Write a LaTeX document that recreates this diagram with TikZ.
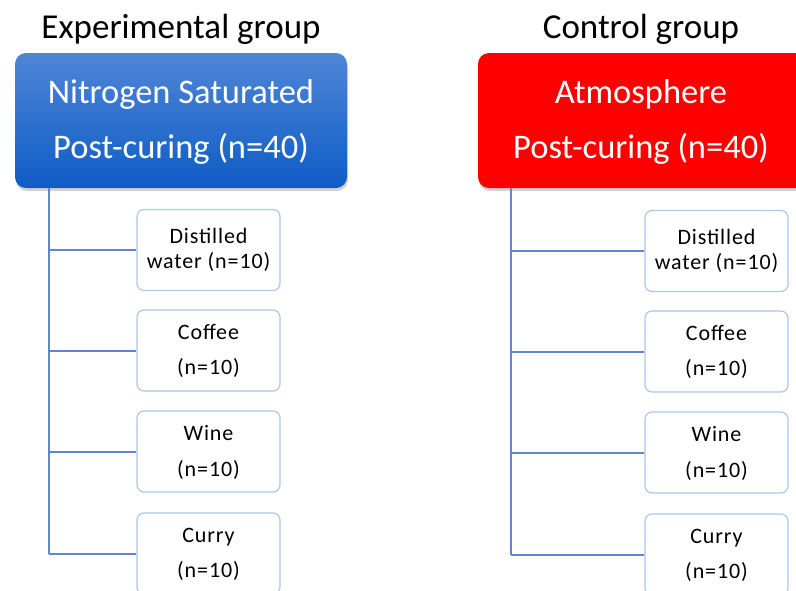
\documentclass[tikz,border=0pt]{standalone}
\usepackage{fontspec}
\setmainfont{Carlito}
\newfontfamily\leaffont[LetterSpace=4]{Carlito}
\usetikzlibrary{shadows}
\definecolor{hdrblueT}{HTML}{4F86D6}
\definecolor{hdrblueB}{HTML}{0E5CC6}
\definecolor{hdrred}{HTML}{FF0000}
\definecolor{boxedge}{HTML}{AFC6EA}
\definecolor{linkcol}{HTML}{5F88CC}
\begin{document}
\begin{tikzpicture}[x=1pt,y=-1pt,
  title/.style={font=\fontsize{35}{38}\selectfont, text=black, anchor=base, inner sep=0pt},
  hdr/.style={rounded corners=11pt, minimum width=332pt, minimum height=135pt, inner sep=0pt,
    drop shadow={shadow xshift=1pt, shadow yshift=-3pt, opacity=0.35}},
  hdrtext/.style={font=\fontsize{34.5}{36}\selectfont, text=white, anchor=base, inner sep=0pt},
  leaf/.style={draw=boxedge, line width=1.2pt, fill=white, rounded corners=7pt,
    minimum width=143pt, minimum height=81pt, inner sep=0pt},
  leaftext/.style={font=\leaffont\fontsize{22}{24}\selectfont, text=black, anchor=base, inner sep=0pt},
  link/.style={draw=linkcol, line width=2pt}]
\useasboundingbox (0,0) rectangle (796,590);
\fill[white] (0,0) rectangle (796,590);

% titles
\node[title] (t1) at (181,38) {Experimental group};
\node[title] (t2) at (641,38) {Control group};

% headers
\node[hdr, top color=hdrblueT, bottom color=hdrblueB] (h1) at (181,120.5) {};
\node[hdr, fill=hdrred, minimum width=330pt] (h2) at (643,120.5) {};
\node[hdrtext] (h1a) at (181,103) {Nitrogen Saturated};
\node[hdrtext] (h1b) at (181,158) {Post-curing (n=40)};
\node[hdrtext] (h2a) at (641,103) {Atmosphere};
\node[hdrtext] (h2b) at (641,158) {Post-curing (n=40)};

% left leaves
\node[leaf] (l1) at (208.5,250) {};
\node[leaf] (l2) at (208.5,350.5) {};
\node[leaf] (l3) at (208.5,451.5) {};
\node[leaf] (l4) at (208.5,553.5) {};
\node[leaftext] (l1a) at (208.5,243) {Distilled};
\node[leaftext] (l1b) at (208.5,268) {water (n=10)};
\node[leaftext] (l2a) at (208.5,339) {Coffee};
\node[leaftext] (l2b) at (208.5,374) {(n=10)};
\node[leaftext] (l3a) at (208.5,440) {Wine};
\node[leaftext] (l3b) at (208.5,476) {(n=10)};
\node[leaftext] (l4a) at (208.5,542) {Curry};
\node[leaftext] (l4b) at (208.5,577) {(n=10)};

% right leaves
\node[leaf] (r1) at (716.5,251) {};
\node[leaf] (r2) at (716.5,351.5) {};
\node[leaf] (r3) at (716.5,452.5) {};
\node[leaf] (r4) at (716.5,554.5) {};
\node[leaftext] (r1a) at (716.5,244) {Distilled};
\node[leaftext] (r1b) at (716.5,269) {water (n=10)};
\node[leaftext] (r2a) at (716.5,340) {Coffee};
\node[leaftext] (r2b) at (716.5,375) {(n=10)};
\node[leaftext] (r3a) at (716.5,441) {Wine};
\node[leaftext] (r3b) at (716.5,477) {(n=10)};
\node[leaftext] (r4a) at (716.5,543) {Curry};
\node[leaftext] (r4b) at (716.5,578) {(n=10)};

% connectors left
\coordinate (lt) at (49,188);
\coordinate (lb) at (49,553.5);
\draw[link] (lt) -- (lb);
\draw[link] (49,250) -- (l1.west);
\draw[link] (49,350.5) -- (l2.west);
\draw[link] (49,451.5) -- (l3.west);
\draw[link] (lb) -- (l4.west);

% connectors right
\coordinate (rt) at (511,188);
\coordinate (rb) at (511,554.5);
\draw[link] (rt) -- (rb);
\draw[link] (511,251) -- (r1.west);
\draw[link] (511,351.5) -- (r2.west);
\draw[link] (511,452.5) -- (r3.west);
\draw[link] (rb) -- (r4.west);
\end{tikzpicture}
\end{document}
